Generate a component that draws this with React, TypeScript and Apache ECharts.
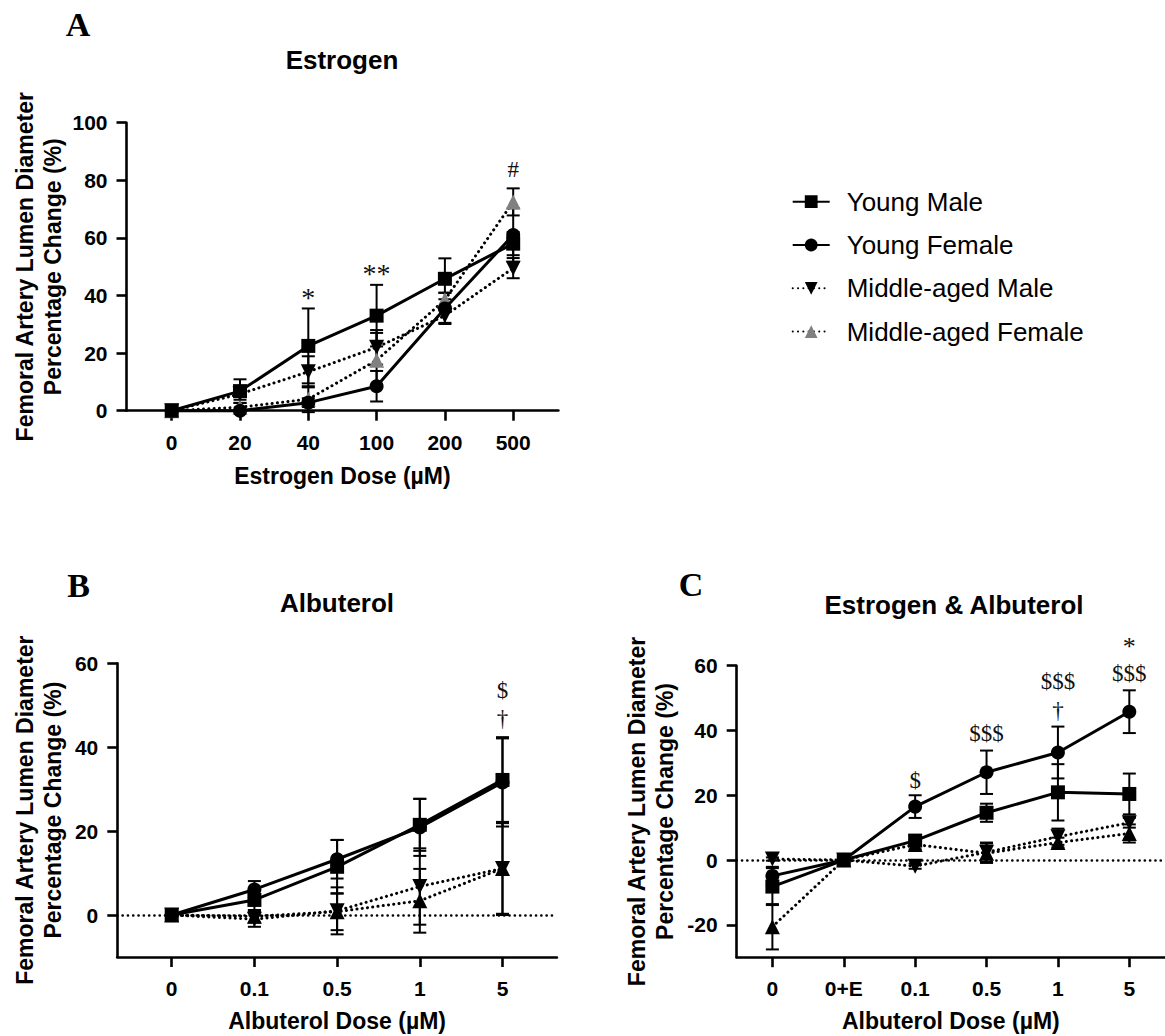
import React, { useEffect, useRef } from "react";
import * as echarts from "echarts";

// ---------- Data ----------
const groupNames = ["Young Male", "Young Female", "Middle-aged Male", "Middle-aged Female"];

// Panel A: Estrogen
const catsA = ["0", "20", "40", "100", "200", "500"];
const ymA = [0, 6.8, 22.5, 33, 45.8, 58];
const ymA_sd = [0, 4.1, 13, 10.7, 7.1, 4];
const yfA = [0, 0, 2.8, 8.5, 35.5, 61];
const yfA_sd = [0, 0, 1.5, 5.3, 5.4, 9.3];
const mamA = [0, 5.8, 13.5, 22, 33, 49.5];
const mamA_sd = [0, 2, 5.4, 6, 2.5, 3.5];
const mafA = [0, 1.2, 4, 17.5, 38.5, 72.5];
const mafA_sd = [0, 1.5, 4.5, 9.5, 2.5, 4.7];
const sigA: [number, number, string][] = [[2, 39.2, "*"], [3, 47.8, "**"], [5, 83.6, "#"]];

// Panel B: Albuterol
const catsB = ["0", "0.1", "0.5", "1", "5"];
const ymB = [0, 3.6, 11.5, 21.5, 32.2];
const ymB_sd = [0, 2.5, 6.4, 6.2, 10.2];
const yfB = [0, 6.1, 13.3, 20.9, 31.6];
const yfB_sd = [0, 2, 4.6, 6.8, 10.5];
const mamB = [0, -1, 1, 6.8, 11.1];
const mamB_sd = [0, 1.8, 5.6, 9.1, 11.1];
const mafB = [0, -0.3, 0.8, 3.4, 11.1];
const mafB_sd = [0, 1.5, 4.4, 7.6, 10.8];
const sigB: [number, number, string][] = [[4, 53.6, "$"], [4, 46.9, "†"]];

// Panel C: Estrogen & Albuterol
const catsC = ["0", "0+E", "0.1", "0.5", "1", "5"];
const ymC = [-8.2, 0, 6, 14.6, 20.9, 20.4];
const ymC_sd = [5.7, 0, 1.5, 2.8, 8.7, 6.3];
const yfC = [-4.9, 0, 16.5, 27.1, 33.2, 45.8];
const yfC_sd = [2.8, 0, 3.5, 6.7, 8, 6.6];
const mamC = [0.3, 0, -1.9, 2.4, 7.2, 11.5];
const mamC_sd = [0.5, 0, 0.8, 3, 2.5, 1.5];
const mafC = [-20.6, 0, 4.8, 2.1, 5.4, 8.2];
const mafC_sd = [7, 0, 1.5, 3, 1.5, 2.8];
const sigC: [number, number, string][] = [
  [2, 24.7, "$"], [3, 39.1, "$$$"], [4, 55.1, "$$$"], [4, 46.3, "†"], [5, 57.6, "$$$"], [5, 65.8, "*"],
];

const yTicksA = [0, 20, 40, 60, 80, 100];
const yTicksB = [0, 20, 40, 60];
const yTicksC = [-20, 0, 20, 40, 60];

// ---------- Styling ----------
const SANS = "Arial, 'Liberation Sans', Helvetica, sans-serif";
const SERIF = "'Times New Roman', 'Liberation Serif', serif";
const DOT: number[] = [0.1, 5.2];

const styles = [
  { symbol: "rect", rotate: 0, dotted: false },
  { symbol: "circle", rotate: 0, dotted: false },
  { symbol: "triangle", rotate: 180, dotted: true },
  { symbol: "triangle", rotate: 0, dotted: true },
];

const panels = [
  {
    cats: catsA,
    vals: [ymA, yfA, mamA, mafA],
    sds: [ymA_sd, yfA_sd, mamA_sd, mafA_sd],
    sig: sigA,
    starSize: 28,
    yTicks: yTicksA,
    yMin: 0, yMax: 100,
    xMin: -0.662, xMax: 5.662,
    grid: { left: 126.5, top: 122.7, width: 431.9, height: 288 },
    xName: "Estrogen Dose (µM)",
    yNameGap: 59.5,
    xNameGap: 54,
    zeroLine: false,
    mafColor: "#808080",
  },
  {
    cats: catsB,
    vals: [ymB, yfB, mamB, mafB],
    sds: [ymB_sd, yfB_sd, mamB_sd, mafB_sd],
    sig: sigB,
    starSize: 28,
    yTicks: yTicksB,
    yMin: -10, yMax: 60,
    xMin: -0.658, xMax: 4.658,
    grid: { left: 117.3, top: 663.3, width: 439.6, height: 293.7 },
    xName: "Albuterol Dose (µM)",
    yNameGap: 50.3,
    xNameGap: 52.5,
    zeroLine: true,
    mafColor: "#000",
  },
  {
    cats: catsC,
    vals: [ymC, yfC, mamC, mafC],
    sds: [ymC_sd, yfC_sd, mamC_sd, mafC_sd],
    sig: sigC,
    starSize: 26,
    yTicks: yTicksC,
    yMin: -30, yMax: 60,
    xMin: -0.5, xMax: 5.5,
    grid: { left: 736.7, top: 665.7, width: 436.5, height: 291.5 },
    xName: "Albuterol Dose (µM)",
    yNameGap: 57.7,
    xNameGap: 52.5,
    zeroLine: true,
    mafColor: "#000",
  },
];

function buildOption() {
  const grids: any[] = [];
  const xAxes: any[] = [];
  const yAxes: any[] = [];
  const lineSeries: any[] = [];
  const errSeries: any[] = [];
  const sigSeries: any[] = [];

  const axisLineStyle = { color: "#000", width: 2.6 };

  panels.forEach((p, pi) => {
    grids.push({ ...p.grid, containLabel: false });
    const idx = p.cats.map((_, i) => i);
    xAxes.push({
      type: "value",
      gridIndex: pi,
      min: p.xMin,
      max: p.xMax,
      axisLine: { show: true, onZero: false, lineStyle: axisLineStyle },
      axisTick: { show: true, length: 10, lineStyle: axisLineStyle, customValues: idx },
      axisLabel: {
        customValues: idx,
        formatter: (v: number) => p.cats[Math.round(v)] ?? "",
        fontSize: 21,
        fontWeight: "bold",
        fontFamily: SANS,
        color: "#000",
        margin: 21,
      },
      splitLine: { show: false },
      name: p.xName,
      nameLocation: "middle",
      nameGap: p.xNameGap,
      nameTextStyle: { fontSize: 23, fontWeight: "bold", fontFamily: SANS, color: "#000" },
    });
    yAxes.push({
      type: "value",
      gridIndex: pi,
      min: p.yMin,
      max: p.yMax,
      axisLine: { show: true, onZero: false, lineStyle: axisLineStyle },
      axisTick: { show: true, length: 10, lineStyle: axisLineStyle, customValues: p.yTicks },
      axisLabel: {
        customValues: p.yTicks,
        fontSize: 21,
        fontWeight: "bold",
        fontFamily: SANS,
        color: "#000",
        margin: 19,
      },
      splitLine: { show: false },
      name: "Femoral Artery Lumen Diameter\nPercentage Change (%)",
      nameLocation: "middle",
      nameGap: p.yNameGap,
      nameTextStyle: { fontSize: 23, fontWeight: "bold", fontFamily: SANS, color: "#000", lineHeight: 28 },
    });

    styles.forEach((s, gi) => {
      const vals = p.vals[gi];
      const sds = p.sds[gi];
      const markerColor = gi === 3 ? p.mafColor : "#000";
      const ser: any = {
        type: "line",
        name: groupNames[gi],
        xAxisIndex: pi,
        yAxisIndex: pi,
        data: vals.map((v, i) => [i, v]),
        symbol: s.symbol,
        symbolSize: s.symbol === "rect" ? 14 : s.symbol === "circle" ? 14 : 15,
        symbolRotate: s.rotate,
        showSymbol: true,
        clip: false,
        lineStyle: {
          color: "#000",
          width: 3,
          type: s.dotted ? DOT : "solid",
          cap: s.dotted ? "round" : "butt",
        },
        itemStyle: { color: markerColor, borderWidth: 0 },
        z: 4 - (gi < 2 ? 0 : 1),
        silent: true,
      };
      if (gi === 0 && p.zeroLine) {
        ser.markLine = {
          silent: true,
          symbol: "none",
          label: { show: false },
          lineStyle: { color: "#000", width: 2.6, type: DOT, cap: "round" },
          data: [{ yAxis: 0 }],
          z: 1,
        };
      }
      lineSeries.push(ser);

      errSeries.push({
        type: "custom",
        name: groupNames[gi],
        xAxisIndex: pi,
        yAxisIndex: pi,
        data: vals.map((v, i) => [i, v, sds[i]]),
        encode: { x: 0, y: 1 },
        silent: true,
        clip: false,
        z: 2,
        renderItem: (params: any, api: any) => {
          const x = api.value(0);
          const y = api.value(1);
          const sd = api.value(2);
          if (!sd) return null;
          const c = api.coord([x, y]);
          const t = api.coord([x, y + sd]);
          const b = api.coord([x, y - sd]);
          const hw = 6.5;
          const st = { stroke: "#000", lineWidth: 2 };
          return {
            type: "group",
            children: [
              { type: "line", shape: { x1: c[0], y1: t[1], x2: c[0], y2: b[1] }, style: st },
              { type: "line", shape: { x1: c[0] - hw, y1: t[1], x2: c[0] + hw, y2: t[1] }, style: st },
              { type: "line", shape: { x1: c[0] - hw, y1: b[1], x2: c[0] + hw, y2: b[1] }, style: st },
            ],
          };
        },
      });
    });

    // significance markers drawn as text at data coordinates
    sigSeries.push({
      type: "custom",
      name: "sig" + pi,
      xAxisIndex: pi,
      yAxisIndex: pi,
      data: p.sig.map((a, i) => [a[0], a[1], i]),
      encode: { x: 0, y: 1 },
      silent: true,
      clip: false,
      z: 6,
      renderItem: (params: any, api: any) => {
        const i = api.value(2);
        const txt = p.sig[i][2];
        const c = api.coord([api.value(0), api.value(1)]);
        const size = txt.indexOf("*") >= 0 ? p.starSize : 23;
        return {
          type: "text",
          x: c[0],
          y: c[1],
          style: {
            text: txt,
            fill: "#111",
            font: `${size}px ${SERIF}`,
            textAlign: "center",
            textVerticalAlign: "middle",
          },
        };
      },
    });
  });

  const graphicText = (text: string, x: number, y: number, font: string, size: number, weight = "bold") => ({
    type: "text",
    x,
    y,
    style: {
      text,
      fill: "#000",
      font: `${weight} ${size}px ${font}`,
      textAlign: "center",
      textVerticalAlign: "middle",
    },
    silent: true,
  });

  return {
    animation: false,
    backgroundColor: "#fff",
    textStyle: { fontFamily: SANS },
    grid: grids,
    xAxis: xAxes,
    yAxis: yAxes,
    legend: {
      orient: "vertical",
      left: 791.7,
      top: 188.7,
      padding: 0,
      itemWidth: 37,
      itemHeight: 16,
      itemGap: 17.3,
      selectedMode: false,
      data: groupNames,
      textStyle: { fontSize: 26, fontFamily: SANS, color: "#000", lineHeight: 26, padding: [0, 0, 0, 12] },
    },
    graphic: [
      graphicText("A", 78, 24, SERIF, 34),
      graphicText("B", 78.5, 585, SERIF, 34),
      graphicText("C", 691, 584, SERIF, 34),
      graphicText("Estrogen", 342, 60, SANS, 26),
      graphicText("Albuterol", 337, 603, SANS, 26),
      graphicText("Estrogen & Albuterol", 954, 605, SANS, 26),
    ],
    series: [...lineSeries, ...errSeries, ...sigSeries],
  };
}

export default function App() {
  const ref = useRef<HTMLDivElement>(null);
  useEffect(() => {
    if (!ref.current) return;
    const chart = echarts.init(ref.current, null, { renderer: "svg" });
    chart.setOption(buildOption() as any);
    return () => chart.dispose();
  }, []);
  return (
    <div
      ref={ref}
      style={{ position: "absolute", left: 0, top: 0, width: 1165, height: 1036, background: "#fff" }}
    />
  );
}
